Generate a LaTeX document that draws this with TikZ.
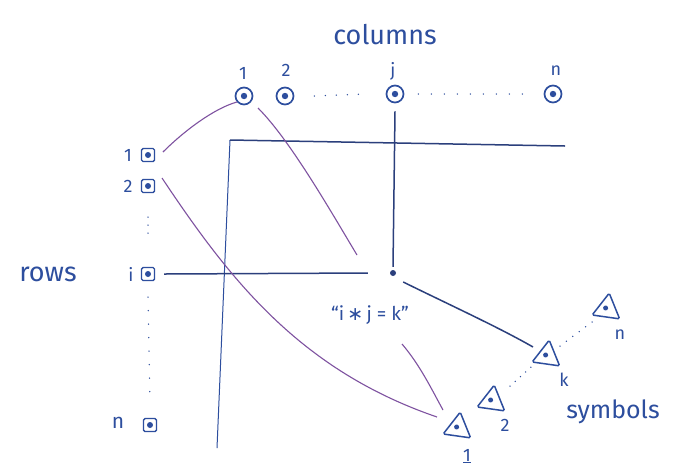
\documentclass[tikz,border=0pt]{standalone}
\usepackage{fontspec}
\setmainfont{Fira Sans}
\newfontfamily\symfont{DejaVu Sans}
\usetikzlibrary{shapes.geometric}
\definecolor{ink}{HTML}{2D4E9E}
\definecolor{navy}{HTML}{2B3F7C}
\definecolor{violet}{HTML}{7E52A0}
\begin{document}
\begin{tikzpicture}[x=1pt,y=-1pt,
  lbl/.style={text=ink,font=\fontsize{18}{18}\selectfont,inner sep=0pt},
  big/.style={text=ink,font=\fontsize{24}{24}\selectfont,inner sep=0pt},
  colnode/.style={circle,draw=ink,line width=1.7pt,minimum size=17pt,inner sep=0pt,
    path picture={\fill[ink] (path picture bounding box.center) circle (3.2pt);}},
  rownode/.style={rectangle,rounded corners=1.5pt,draw=ink,line width=1.4pt,minimum size=13pt,inner sep=0pt,
    path picture={\fill[ink] (path picture bounding box.center) circle (3pt);}},
  symnode/.style={regular polygon,regular polygon sides=3,draw=ink,line width=1.5pt,rounded corners=1.5pt,
    minimum size=32pt,inner sep=0pt,
    path picture={\fill[ink] ([yshift=-2pt]path picture bounding box.center) circle (2.5pt);}},
  dotrow/.style={ink,line width=1.5pt,line cap=round,dash pattern=on 0pt off 9pt},
  axis/.style={ink,line width=1pt},
  edge/.style={navy,line width=1.5pt},
  link/.style={violet,line width=1.1pt}
]
\useasboundingbox (0,0) rectangle (684,475);
\fill[white] (0,0) rectangle (684,475);

% title labels
\node[big,font=\fontsize{27}{27}\selectfont] (columns) at (385,35) {columns};
\node[big,font=\fontsize{27}{27}\selectfont] (rows) at (48,274) {rows};
\node[big,font=\fontsize{25}{25}\selectfont] (symbols) at (613,412) {symbols};

% columns
\node[colnode] (c1) at (244,96) {};
\node[colnode] (c2) at (285,96) {};
\node[colnode] (cj) at (395,94) {};
\node[colnode] (cn) at (553,94) {};
\node[lbl] (lc1) at (243,73) {1};
\node[lbl] (lc2) at (286,70) {2};
\node[lbl] (lcj) at (393,71) {j};
\node[lbl] (lcn) at (556,71) {n};
\draw[dotrow,dash pattern=on 0pt off 11pt] ([xshift=20pt]c2.east) -- ([xshift=-20pt]cj.west);
\draw[dotrow,dash pattern=on 0pt off 13pt] ([xshift=14pt]cj.east) -- ([xshift=-18pt]cn.west);

% rows
\node[rownode] (r1) at (148,155) {};
\node[rownode] (r2) at (148,186) {};
\node[rownode] (ri) at (148,274) {};
\node[rownode] (rn) at (150,425) {};
\node[lbl] (lr1) at (128,155) {1};
\node[lbl] (lr2) at (128,186) {2};
\node[lbl] (lri) at (131,274) {i};
\node[lbl,font=\fontsize{21}{21}\selectfont] (lrn) at (118,423) {n};
\draw[dotrow,dash pattern=on 0pt off 8pt] ([yshift=-24pt]r2.south) -- ([yshift=30pt]ri.north);
\draw[dotrow,dash pattern=on 0pt off 13.5pt] ([yshift=-16pt]ri.south) -- ([yshift=14pt]rn.north);

% axes
\coordinate (corner) at (230,140);
\coordinate (axr) at (565,146);
\coordinate (axb) at (217,448);
\draw[axis] (axb) -- (corner);
\draw[edge] (corner) -- (axr);

% cell
\node[circle,fill=navy,minimum size=6pt,inner sep=0pt] (cell) at (393,273) {};
\draw[edge] (cj.south) ++(0,8) -- ([yshift=3pt]cell.north);
\draw[edge] ([xshift=9pt]ri.east) -- ([xshift=-22pt]cell.west);

% rule
\node[lbl,font=\fontsize{19}{19}\selectfont] (rule) at (370,315) {\char"201C i\,{\symfont ∗}\,j = k\char"201D};

% symbols
\node[symnode,rotate=-8] (s1) at (458,428) {};
\node[symnode,rotate=-8] (s2) at (492,401) {};
\node[symnode,rotate=-8] (sk) at (547,356) {};
\node[symnode,rotate=-8] (sn) at (607,309) {};
\node[lbl] (ls1) at (467,456) {\underline{1}};
\node[lbl] (ls2) at (505,425) {2};
\node[lbl] (lsk) at (564,380) {k};
\node[lbl] (lsn) at (620,335) {n};
\draw[dotrow,dash pattern=on 0pt off 7pt] (510,386) -- (531,367);
\draw[dotrow,dash pattern=on 0pt off 8pt] (560,346) -- (592,322);

% edge to symbol k
\coordinate (ek) at (533,347);
\draw[edge] ([shift={(7,9)}]cell.east) .. controls (450,305) and (500,328) .. (ek);

% purple links
\coordinate (p1a) at (163,152);
\coordinate (p1b) at (237,102);
\draw[link] (p1a) .. controls (185,130) and (215,108) .. (p1b);
\coordinate (p2a) at (258,108);
\coordinate (p2b) at (357,255);
\draw[link] (p2a) .. controls (290,140) and (330,210) .. (p2b);
\coordinate (p3a) at (162,178);
\coordinate (p3b) at (437,417);
\draw[link] (p3a) .. controls (230,280) and (300,370) .. (p3b);
\coordinate (p4a) at (402,344);
\coordinate (p4b) at (443,410);
\draw[link] (p4a) .. controls (420,365) and (432,390) .. (p4b);
\end{tikzpicture}
\end{document}
